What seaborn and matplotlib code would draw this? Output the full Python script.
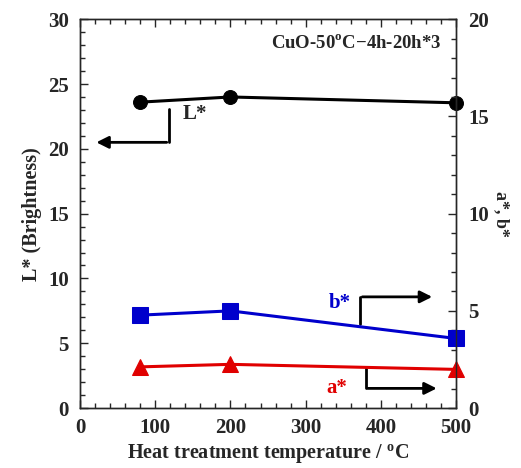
import numpy as np
import pandas as pd
import matplotlib
matplotlib.use('Agg')
import matplotlib.pyplot as plt
import seaborn as sns

# data
temperature = [80, 200, 500]
L_star = [23.6, 24.0, 23.55]
b_star = [4.78, 5.0, 3.58]
a_star = [2.12, 2.25, 1.99]

sns.set_style('ticks')
plt.rcParams['font.family'] = ['Liberation Serif', 'DejaVu Serif']
plt.rcParams['font.weight'] = 'bold'
plt.rcParams['mathtext.fontset'] = 'custom'
plt.rcParams['mathtext.rm'] = 'Liberation Serif:bold'
plt.rcParams['mathtext.bf'] = 'Liberation Serif:bold'
plt.rcParams['axes.linewidth'] = 1.0

df = pd.DataFrame({'T': temperature, 'L': L_star, 'a': a_star, 'b': b_star})

fig = plt.figure(figsize=(5.21, 4.68), dpi=100)
ax = fig.add_axes([0.1536, 0.128, 0.7217, 0.831])
ax2 = ax.twinx()

blue = '#0000cc'
red = '#e00000'

sns.lineplot(data=df, x='T', y='L', ax=ax, color='black', marker='o',
             markersize=10, linewidth=2.2, markeredgecolor='black', clip_on=False)
sns.lineplot(data=df, x='T', y='b', ax=ax2, color=blue, marker='s',
             markersize=11.5, linewidth=2.2, markeredgecolor=blue, clip_on=False)
sns.lineplot(data=df, x='T', y='a', ax=ax2, color=red, marker='^',
             markersize=11.5, linewidth=2.2, markeredgecolor=red, clip_on=False)

ax.set_xlim(0, 500)
ax.set_ylim(0, 30)
ax2.set_ylim(0, 20)
ax.set_xticks(range(0, 501, 100))
ax.set_xticks(range(0, 501, 20), minor=True)
ax.set_yticks(range(0, 31, 5))
ax.set_yticks(range(0, 31, 1), minor=True)
ax2.set_yticks(range(0, 21, 5))
ax2.set_yticks(range(0, 21, 1), minor=True)

ax.tick_params(axis='x', which='both', direction='in', top=True, labelsize=15, pad=7)
ax.tick_params(axis='y', which='both', direction='in', right=False, labelsize=15, pad=8)
ax.tick_params(which='major', length=6, width=1)
ax.tick_params(which='minor', length=3.5, width=1)
ax2.tick_params(axis='y', which='both', direction='in', labelsize=15, pad=9)
ax2.tick_params(which='major', length=6, width=1)
ax2.tick_params(which='minor', length=3.5, width=1)

ax.set_xlabel(r'Heat treatment temperature / $^{\mathrm{o}}$C', fontsize=14.5, fontweight='bold', labelpad=3)
ax.set_ylabel('L* (Brightness)', fontsize=14.5, fontweight='bold', labelpad=4)
ax2.set_ylabel('a*, b*', fontsize=13, fontweight='bold', rotation=270, labelpad=15)

ax.text(0.96, 0.94, r'CuO-50$^{\mathrm{o}}$C$-$4h-20h*3', transform=ax.transAxes,
        ha='right', va='center', fontsize=13.5, fontweight='bold')

# L* arrow to the left axis
ax.plot([118, 118], [23.05, 20.5], color='black', lw=2)
ax.annotate('', xy=(18, 20.5), xytext=(119, 20.5),
            arrowprops=dict(arrowstyle='-|>', color='black', lw=2, mutation_scale=18))
ax.text(137, 22.7, 'L*', fontsize=15, fontweight='bold', va='center', ha='left')

# b* arrow to the right axis
ax.plot([372.7, 372.7], [6.45, 8.58], color='black', lw=2)
ax.annotate('', xy=(472, 8.58), xytext=(371.7, 8.58),
            arrowprops=dict(arrowstyle='-|>', color='black', lw=2, mutation_scale=18))
ax.text(345, 8.1, 'b*', fontsize=15, fontweight='bold', color=blue, va='center', ha='center')

# a* arrow to the right axis
ax.plot([380, 380], [3.06, 1.52], color='black', lw=2)
ax.annotate('', xy=(478, 1.52), xytext=(379, 1.52),
            arrowprops=dict(arrowstyle='-|>', color='black', lw=2, mutation_scale=18))
ax.text(341, 1.54, 'a*', fontsize=15, fontweight='bold', color=red, va='center', ha='center')

ax2.set_zorder(ax.get_zorder() + 1)
ax2.patch.set_visible(False)

fig.savefig('out.png', dpi=100)
